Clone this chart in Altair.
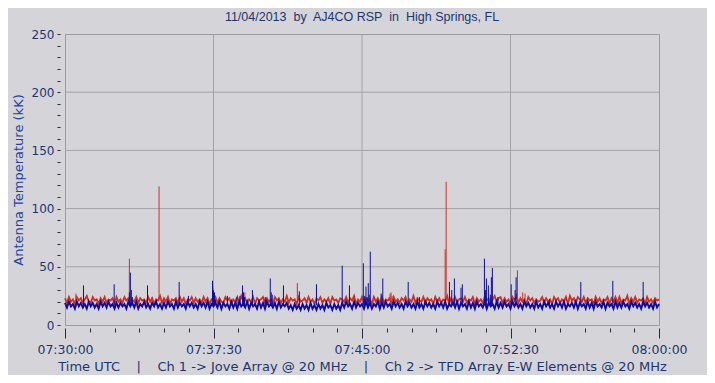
import json
import altair as alt
import pandas as pd

# ---------------- text ----------------
title_text = "11/04/2013\u00a0 by\u00a0 AJ4CO RSP\u00a0 in\u00a0 High Springs, FL"
y_title = "Antenna Temperature (kK)"
x_title = ("Time UTC\u00a0\u00a0\u00a0 |\u00a0\u00a0\u00a0 Ch 1 -> Jove Array @ 20 MHz"
           "\u00a0\u00a0\u00a0 |\u00a0\u00a0\u00a0 Ch 2 -> TFD Array E-W Elements @ 20 MHz")

# ---------------- axes ----------------
x_tick_values = list(range(0, 1801, 75))          # seconds after 07:30:00
x_major_step = 450
x_major_labels = ["07:30:00", "07:37:30", "07:45:00", "07:52:30", "08:00:00"]
y_tick_values = list(range(0, 251, 10))
grid_x = [450, 900, 1350]
grid_y = [50, 100, 150, 200]

# ---------------- data ----------------
step = 6  # seconds between baseline samples

red_base = [
    23, 19, 24, 20, 22, 18, 24, 21, 23, 19, 22, 25, 20, 19, 24, 21, 22, 18, 23, 20,
    24, 19, 22, 21, 23, 18, 24, 20, 22, 19, 24, 21, 23, 18, 22, 20, 24, 19, 23, 21,
    22, 19, 24, 20, 23, 18, 22, 21, 25, 19, 23, 20, 24, 18, 22, 21, 23, 19, 24, 20,
    23, 18, 22, 21, 24, 19, 23, 20, 22, 19, 24, 20, 23, 18, 22, 21, 24, 19, 23, 20,
    19, 24, 21, 23, 18, 22, 20, 24, 19, 25, 21, 23, 19, 22, 20, 24, 18, 23, 21, 22,
    24, 19, 23, 20, 22, 18, 24, 21, 23, 19, 22, 20, 25, 19, 23, 21, 22, 18, 24, 20,
    21, 23, 19, 24, 20, 22, 18, 23, 21, 24, 19, 22, 20, 23, 18, 24, 21, 22, 19, 23,
    22, 20, 24, 19, 23, 21, 25, 18, 22, 20, 24, 19, 23, 21, 22, 18, 24, 20, 23, 19,
    24, 19, 22, 21, 23, 18, 24, 20, 22, 19, 23, 21, 24, 18, 22, 20, 25, 19, 23, 21,
    20, 24, 19, 23, 21, 22, 18, 24, 20, 23, 19, 22, 21, 25, 18, 23, 20, 24, 19, 22,
    23, 20, 24, 19, 22, 21, 24, 18, 23, 20, 22, 19, 24, 21, 23, 18, 22, 25, 20, 23,
    24, 19, 23, 20, 22, 18, 24, 21, 25, 19, 23, 20, 22, 18, 24, 21, 23, 19, 22, 20,
    21, 24, 19, 23, 20, 22, 18, 24, 21, 23, 19, 22, 20, 24, 18, 25, 21, 23, 19, 24,
    22, 20, 24, 19, 23, 21, 22, 18, 24, 20, 23, 19, 22, 21, 24, 18, 23, 20, 24, 19,
    24, 19, 22, 21, 25, 18, 23, 20, 24, 19, 22, 21, 23, 18, 24, 20, 22, 19, 23, 21,
    22,
]

blue_base = [
    19, 15, 20, 16, 18, 14, 20, 16, 19, 15, 18, 14, 20, 16, 19, 15, 18, 14, 20, 16,
    19, 15, 20, 16, 18, 14, 19, 15, 19, 16, 18, 14, 20, 16, 19, 15, 20, 14, 18, 16,
    20, 15, 18, 14, 19, 16, 20, 15, 18, 14, 19, 15, 20, 16, 18, 14, 20, 15, 19, 16,
    18, 14, 20, 16, 19, 15, 18, 14, 20, 16, 19, 15, 20, 14, 18, 16, 19, 15, 20, 14,
    19, 16, 18, 14, 20, 15, 19, 14, 20, 16, 18, 15, 20, 14, 19, 16, 18, 14, 20, 15,
    19, 14, 20, 16, 18, 15, 19, 14, 20, 15, 18, 16, 19, 14, 17, 13, 18, 14, 17, 13,
    18, 14, 17, 13, 19, 14, 17, 13, 18, 14, 17, 13, 19, 15, 17, 13, 18, 14, 17, 13,
    19, 15, 20, 16, 18, 14, 20, 15, 19, 16, 18, 14, 20, 15, 19, 14, 18, 16, 20, 14,
    19, 15, 20, 16, 18, 14, 20, 16, 19, 15, 18, 14, 20, 16, 19, 15, 18, 14, 20, 15,
    18, 14, 20, 16, 19, 15, 18, 14, 20, 16, 19, 15, 20, 14, 18, 16, 19, 15, 20, 14,
    19, 16, 18, 14, 20, 15, 19, 14, 20, 16, 18, 15, 20, 14, 19, 16, 18, 14, 20, 15,
    19, 15, 20, 16, 18, 14, 20, 16, 19, 15, 18, 14, 20, 16, 19, 15, 18, 14, 20, 15,
    18, 14, 20, 16, 19, 15, 18, 14, 20, 16, 19, 15, 20, 14, 18, 16, 19, 15, 20, 14,
    19, 16, 18, 14, 20, 15, 19, 14, 20, 16, 18, 15, 20, 14, 19, 16, 18, 14, 20, 15,
    19, 15, 20, 16, 18, 14, 20, 16, 19, 15, 18, 14, 20, 16, 19, 15, 18, 14, 20, 15,
    18,
]

# impulsive events (seconds after 07:30:00, peak kK)
red_spike_t = [33, 195, 264, 285, 448, 545, 704, 982, 985, 988, 991, 1152, 1155, 1371, 1387, 1394]
red_spike_v = [27, 57, 24, 119, 33, 28, 36, 24, 27, 28, 25, 65, 123, 47, 28, 27]

blue_spike_t = [56, 149, 195, 198, 201, 204, 250, 346, 374, 447, 450, 453, 456, 492, 521, 530,
                538, 541, 544, 568, 607, 622, 625, 628, 662, 710, 762, 840, 862, 904, 908,
                912, 916, 919, 922, 925, 958, 963, 1040, 1074, 1165, 1172, 1180, 1200, 1204,
                1271, 1274, 1277, 1283, 1289, 1292, 1295, 1312, 1352, 1364, 1367, 1468,
                1563, 1660, 1752]
blue_spike_v = [34, 35, 28, 45, 30, 24, 34, 37, 25, 38, 30, 28, 22, 25, 24, 25,
                34, 28, 24, 30, 24, 40, 28, 26, 34, 29, 35, 51, 34, 53, 25,
                33, 24, 36, 26, 63, 27, 40, 37, 24, 37, 30, 40, 32, 35,
                57, 30, 40, 34, 26, 41, 49, 24, 35, 30, 41, 22,
                37, 38, 37]
red_level = 21
blue_level = 17

# ---------------- styling ----------------
bg = "#d5d5d9"
grid_color = "#a3a3a6"
red_color = "#d62c1e"
blue_color = "#0c0ca0"
text_color = "#1c3570"
ytitle_color = "#2442a0"

red_df = pd.DataFrame({"t": [i * step for i in range(len(red_base))], "v": red_base})
blue_df = pd.DataFrame({"t": [i * step for i in range(len(blue_base))], "v": blue_base})
red_sp_df = pd.DataFrame({"t": red_spike_t, "v": red_spike_v, "lvl": [red_level] * len(red_spike_t)})
blue_sp_df = pd.DataFrame({"t": blue_spike_t, "v": blue_spike_v, "lvl": [blue_level] * len(blue_spike_t)})

label_expr = ("datum.value % " + str(x_major_step) + " === 0 ? "
              + json.dumps(x_major_labels) + "[datum.value / " + str(x_major_step) + "] : ''")

x_axis = alt.Axis(values=x_tick_values, labelExpr=label_expr, title=x_title,
                  grid=False, domain=False, offset=3,
                  tickSize={"condition": {"test": "datum.value % 450 === 0", "value": 10},
                            "value": 4},
                  tickColor="#2a2a40", labelFont="DejaVu Sans", labelFontSize=12.5,
                  labelColor=text_color, labelPadding=5, labelFlush=False,
                  labelOverlap=False,
                  titleFont="DejaVu Sans", titleFontSize=13, titleFontWeight="normal",
                  titleColor=text_color, titlePadding=5)
y_axis = alt.Axis(values=y_tick_values, labelExpr="datum.value % 50 === 0 ? datum.label : ''",
                  title=y_title, grid=False, domain=False, offset=5, tickSize=3,
                  tickColor="#2a2a40", labelFont="DejaVu Sans", labelFontSize=12,
                  labelColor=text_color, labelPadding=3, labelOverlap=False, labelFlush=False,
                  titleFont="DejaVu Sans", titleFontSize=13, titleFontWeight="normal",
                  titleColor=ytitle_color, titlePadding=6)
x_scale = alt.Scale(domain=[0, 1800], nice=False, zero=False)
y_scale = alt.Scale(domain=[0, 250], nice=False)

X = alt.X("t:Q", scale=x_scale, axis=x_axis)
Y = alt.Y("v:Q", scale=y_scale, axis=y_axis)

gx = alt.Chart(pd.DataFrame({"t": grid_x})).mark_rule(color=grid_color, strokeWidth=1).encode(x=X)
gy = alt.Chart(pd.DataFrame({"v": grid_y})).mark_rule(color=grid_color, strokeWidth=1).encode(y=Y)

red_line = alt.Chart(red_df).mark_line(color=red_color, strokeWidth=1.8).encode(x=X, y=Y, order="t:Q")
red_sp = alt.Chart(red_sp_df).mark_rule(color=red_color, strokeWidth=1).encode(x=X, y=Y, y2="lvl:Q")
blue_line = alt.Chart(blue_df).mark_line(color=blue_color, strokeWidth=1.9).encode(x=X, y=Y, order="t:Q")
blue_sp = alt.Chart(blue_sp_df).mark_rule(color=blue_color, strokeWidth=1).encode(x=X, y=Y, y2="lvl:Q")

chart = alt.layer(gx, gy, red_line, red_sp, blue_line, blue_sp).properties(
    width=594, height=291,
    title=alt.TitleParams(text=title_text, anchor="middle", font="Liberation Sans", fontSize=12.5,
                          fontWeight="normal", color=text_color, offset=5),
    background=bg,
    padding={"left": 57, "top": 26, "right": 48, "bottom": 50},
    autosize=alt.AutoSizeParams(type="none"),
).configure_view(stroke="#9c9ca0", strokeWidth=1, fill=bg)

chart.save("out.html", embed_options={"renderer": "svg", "actions": False})
